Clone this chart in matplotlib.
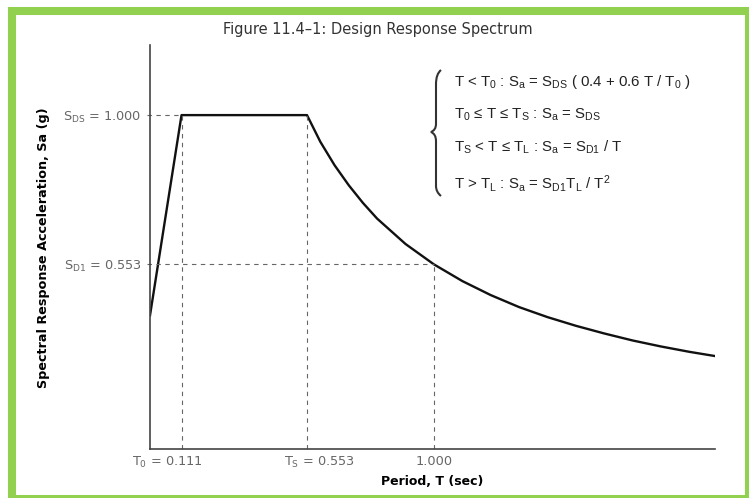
import matplotlib
matplotlib.use('Agg')
import matplotlib.pyplot as plt
from matplotlib.patches import Rectangle, PathPatch
from matplotlib.path import Path
from matplotlib.transforms import ScaledTranslation

# design values
T0 = 0.111
TS = 0.553
SDS = 1.000
SD1 = 0.553

# spectrum curve points
period = [0.0, 0.111, 0.553, 0.6, 0.65, 0.7, 0.75, 0.8, 0.9, 1.0, 1.1, 1.2,
          1.3, 1.4, 1.5, 1.6, 1.7, 1.8, 1.9, 2.0]
sa = [0.40, 1.00, 1.00, 0.92, 0.85, 0.79, 0.737, 0.69, 0.614, 0.553, 0.503, 0.461,
      0.425, 0.395, 0.369, 0.346, 0.325, 0.307, 0.291, 0.277]

W, H = 749, 498
fig = plt.figure(figsize=(W / 100, H / 100), dpi=100)
fig.patch.set_facecolor('white')

# green frame
fig.patches.append(Rectangle((12 / W, (H - 499) / H), (749 - 12) / W, (499 - 11) / H,
                             transform=fig.transFigure, fill=False,
                             edgecolor='#92d050', linewidth=5.8))

ax = fig.add_axes([150 / W, (H - 449) / H, (715 - 150) / W, (449 - 45) / H])
ax.plot(period, sa, color='#111111', lw=1.7, solid_joinstyle='round')

dash = dict(color='#666666', lw=0.8, ls=(0, (4, 4)))
ax.plot([-0.01, T0], [SDS, SDS], clip_on=False, **dash)
ax.plot([-0.01, 1.0], [SD1, SD1], clip_on=False, **dash)
ax.plot([T0, T0], [0, SDS], **dash)
ax.plot([TS, TS], [0, SDS], **dash)
ax.plot([1.0, 1.0], [0, SD1], **dash)

ax.set_xlim(0, 1.99)
ax.set_ylim(0, 1.21)
for s in ['top', 'right']:
    ax.spines[s].set_visible(False)
for s in ['left', 'bottom']:
    ax.spines[s].set_color('#444444')
    ax.spines[s].set_linewidth(1.2)

ax.set_xticks([T0, TS, 1.0])
ax.set_xticklabels([r'T$_{\mathregular{0}}$ = 0.111', r'T$_{\mathregular{S}}$ = 0.553', '1.000'])
ax.set_yticks([SD1, SDS])
ax.set_yticklabels([r'S$_{\mathregular{D1}}$ = 0.553', r'S$_{\mathregular{DS}}$ = 1.000'])
ax.tick_params(length=0, labelsize=9.3, labelcolor='#666666', pad=4)
ax.tick_params(axis='y', pad=6)

# x labels sit off-centre in the original
shifts = [-0.14, 0.12, 0.0]
for lab, dx in zip(ax.get_xticklabels(), shifts):
    lab.set_transform(lab.get_transform() + ScaledTranslation(dx, 0, fig.dpi_scale_trans))

fig.text(378 / W, 1 - 29 / H, 'Figure 11.4\u20131: Design Response Spectrum',
         ha='center', va='center', fontsize=10.5, color='#333333')
fig.text(44 / W, 1 - 248 / H, 'Spectral Response Acceleration, Sa (g)',
         rotation=90, ha='center', va='center', fontsize=9.2, fontweight='bold')
fig.text(483 / W, 1 - 481 / H, 'Period, T (sec)', ha='right', va='center',
         fontsize=9.0, fontweight='bold')

# piecewise definition
plt.rcParams['mathtext.fontset'] = 'custom'
plt.rcParams['mathtext.rm'] = 'Liberation Sans'
plt.rcParams['mathtext.it'] = 'Liberation Sans'
eqs = [
    (82, r'T < T$_0$ : S$_a$ = S$_{DS}$ ( 0.4 + 0.6 T / T$_0$ )'),
    (115, 'T$_0$ \u2264 T \u2264 T$_S$ : S$_a$ = S$_{DS}$'),
    (147, 'T$_S$ < T \u2264 T$_L$ : S$_a$ = S$_{D1}$ / T'),
    (183, r'T > T$_L$ : S$_a$ = S$_{D1}$T$_L$ / T$^2$'),
]
for y, s in eqs:
    fig.text(454 / W, 1 - y / H, s, ha='left', va='center', fontsize=10.8,
             color='#222222', family='Liberation Sans')

# brace
def fp(x, y):
    return (x / W, 1 - y / H)

verts = [fp(441, 70), fp(436, 74), fp(436, 84),
         fp(436, 124),
         fp(436, 130), fp(431, 132),
         fp(436, 134), fp(436, 141),
         fp(436, 186),
         fp(436, 192), fp(441, 196)]
codes = [Path.MOVETO, Path.CURVE3, Path.CURVE3,
         Path.LINETO,
         Path.CURVE3, Path.CURVE3,
         Path.CURVE3, Path.CURVE3,
         Path.LINETO,
         Path.CURVE3, Path.CURVE3]
fig.patches.append(PathPatch(Path(verts, codes), transform=fig.transFigure,
                             fill=False, edgecolor='#333333', lw=1.5))

fig.savefig('out.png', dpi=100)
